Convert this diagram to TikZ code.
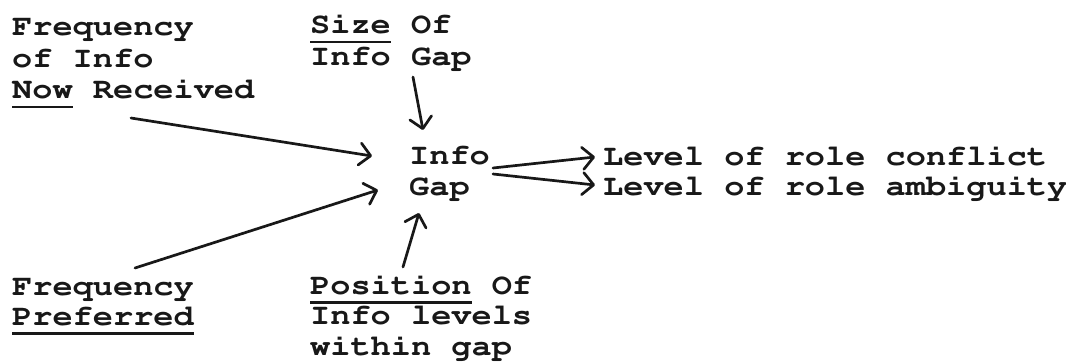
\documentclass[tikz,border=0pt]{standalone}
\usepackage[T1]{fontenc}
\usepackage{graphicx}
\usetikzlibrary{arrows.meta}
\definecolor{ink}{RGB}{24,24,24}
\newlength\ulw
\newcommand\ulin[1]{\settowidth\ulw{#1}\rlap{\rule[-9.6pt]{\ulw}{2.6pt}}#1}
\newcommand\twtext[2]{\scalebox{1.14}[1]{\fontsize{29.5}{#1}\selectfont\begin{tabular}[t]{@{}l@{}}#2\end{tabular}}}
\tikzset{
  lbl/.style={anchor=base west, inner sep=0pt, text=ink, font=\fontfamily{pcr}\fontseries{b}\selectfont},
  conn/.style={draw=ink, line width=2.7pt, line cap=round, line join=round, -{Straight Barb[length=11pt,width=22pt,round]}}
}
\begin{document}
\begin{tikzpicture}[x=1pt,y=-1pt]
\useasboundingbox (0,0) rectangle (1066,364);
\node[lbl] (nowrec) at (12,35.5) {\twtext{31.5}{Frequency\\of Info\\\ulin{Now} Received}};
\node[lbl] (sizeof) at (310,33.5) {\twtext{32}{\ulin{Size} Of\\Info Gap}};
\node[lbl] (gap) at (409,164) {\twtext{31}{Info\\Gap}};
\node[lbl] (conflict) at (603,165) {\twtext{31}{Level of role conflict}};
\node[lbl] (ambig) at (603,195) {\twtext{31}{Level of role ambiguity}};
\node[lbl] (pref) at (12,295) {\twtext{30}{Frequency\\\ulin{Preferred}}};
\node[lbl] (posn) at (310,294) {\twtext{30.5}{\ulin{Position} Of\\Info levels\\within gap}};

\draw[conn] ([shift={(119,82.5)}]nowrec.base west) -- ([shift={(-37,-8)}]gap.base west);
\draw[conn] ([shift={(103,43.5)}]sizeof.base west) -- ([shift={(14,-34)}]gap.base west);
\draw[conn] ([shift={(123,-27)}]pref.base west) -- ([shift={(-31,26)}]gap.base west);
\draw[conn] ([shift={(93,-27)}]posn.base west) -- ([shift={(10,49)}]gap.base west);
\draw[conn] ([shift={(84,4)}]gap.base west) -- ([shift={(-8,-8)}]conflict.base west);
\draw[conn] ([shift={(84,10)}]gap.base west) -- ([shift={(-8,-10)}]ambig.base west);
\end{tikzpicture}
\end{document}
